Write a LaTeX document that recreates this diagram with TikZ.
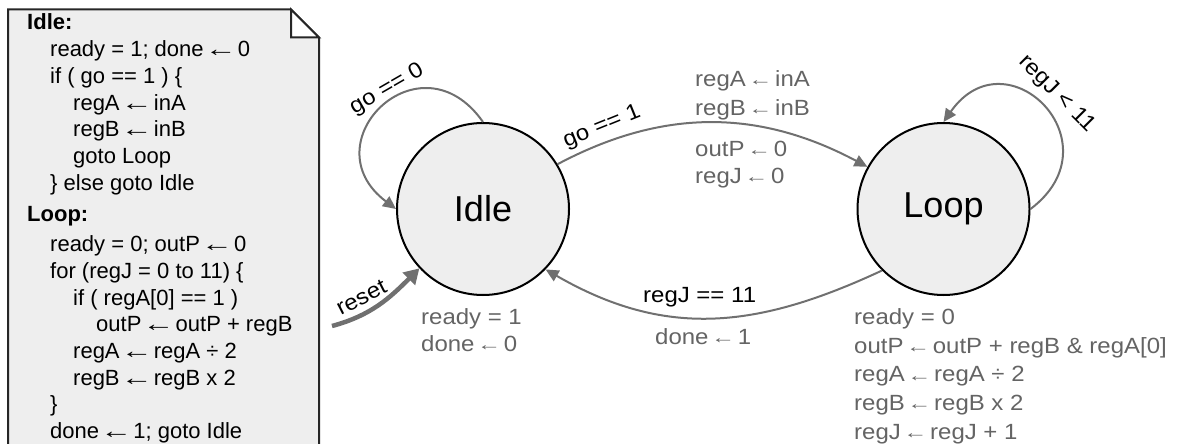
\documentclass[tikz,border=0pt]{standalone}
\usepackage{fontspec}
\setmainfont{Liberation Sans}
\newfontfamily\lblfont[FakeStretch=1.09]{Liberation Sans}
\usetikzlibrary{arrows.meta}

\definecolor{edgegray}{RGB}{112,112,112}
\definecolor{actgray}{RGB}{100,100,100}
\definecolor{statefill}{RGB}{238,238,238}
\definecolor{notefill}{RGB}{238,238,238}

% long assignment arrow for the pseudo-code
\newcommand{\cla}{\makebox[1em]{\scalebox{1.45}[1]{←}}}
% short assignment arrow used in the action labels
\newcommand{\sla}{\makebox[16pt]{\raisebox{0.8pt}{\fontsize{17}{17}\selectfont\scalebox{1.3}[1]{←}}}}

\begin{document}
\begin{tikzpicture}[x=1pt,y=1pt,
  statenode/.style={circle, draw=black, line width=2pt, fill=statefill,
    minimum size=172pt, inner sep=0pt, font=\fontsize{36}{36}\selectfont},
  trans/.style={draw=edgegray, line width=2pt,
    -{Triangle[length=13pt,width=12pt]}},
  resetarrow/.style={draw=edgegray, line width=4.5pt,
    -{Triangle[length=15pt,width=17pt]}},
  guard/.style={font=\lblfont\fontsize{22}{22}\selectfont, text=black, inner sep=0pt},
  action/.style={font=\lblfont\fontsize{22}{22}\selectfont, text=actgray,
    inner sep=0pt, anchor=base west},
  code/.style={font=\fontsize{22}{22}\selectfont, text=black,
    inner sep=0pt, anchor=base west},
  notebox/.style={draw=black!85, line width=2pt, fill=notefill, line join=miter}
]
\useasboundingbox (0,0) rectangle (1177,-444);

% ---- pseudo-code note with folded corner ----
\draw[notebox] (8,-446) -- (8,-9.5) -- (291,-9.5) -- (319,-37.5) -- (319,-446);
\draw[draw=black!85, line width=2pt, fill=white, line join=miter]
  (291,-9.5) -- (291,-37.5) -- (319,-37.5) -- cycle;

\foreach \px/\py/\txt [count=\i] in {
   27/30/{\bfseries Idle:},
   50/56.7/{ready = 1; done \cla{} 0},
   50/83.3/{if ( go == 1 ) \{},
   73/110/{regA \cla{} inA},
   73/136.7/{regB \cla{} inB},
   73/163.3/{goto Loop},
   50/190/{\} else goto Idle},
   27/221.7/{\bfseries Loop:},
   50/251.7/{ready = 0; outP \cla{} 0},
   50/278.3/{for (regJ = 0 to 11) \{},
   73/305/{if ( regA[0] == 1 )},
   96/331.7/{outP \cla{} outP + regB},
   73/358.3/{regA \cla{} regA ÷ 2},
   73/385/{regB \cla{} regB x 2},
   50/411.7/{\}},
   50/438.3/{done \cla{} 1; goto Idle}}
  \node[code] (code\i) at (\px,-\py) {\txt};

% ---- states ----
\node[statenode] (Idle) at (483,-209) {Idle};
\node[statenode] (Loop) at (943.5,-209) {Loop};

% ---- transitions ----
\draw[trans] (Idle.90) to[out=125,in=143,distance=110pt] (Idle.180);
\draw[trans] (Loop.0) to[out=37,in=55,distance=110pt] (Loop.90);
\draw[trans] (Idle.31) to[out=28,in=152] (Loop.151);
\draw[trans] (Loop.225) to[out=205,in=330,looseness=1.05] (Idle.316);
\coordinate (rst) at (332,-326);
\draw[resetarrow] (rst) to[out=15,in=225] (Idle.223);

% ---- guards ----
\node[guard, rotate=30] (gZero) at (387,-89) {go == 0};
\node[guard, rotate=22] (gOne) at (602,-127) {go == 1};
\node[guard, rotate=-45] (gLess) at (1057,-94) {regJ < 11};
\node[guard, rotate=27] (gReset) at (361.5,-297.5) {reset};
\node[guard, anchor=base west] (gEq) at (643,-302.3) {regJ == 11};

% ---- actions ----
\node[action] (aI1) at (421,-324) {ready = 1};
\node[action] (aI2) at (421,-351.7) {done \sla{} 0};

\node[action] (aG1) at (695,-86.7) {regA \sla{} inA};
\node[action] (aG2) at (695,-115) {regB \sla{} inB};
\node[action] (aG3) at (695,-156.7) {outP \sla{} 0};
\node[action] (aG4) at (695,-183.3) {regJ \sla{} 0};

\node[action] (aD1) at (655,-344) {done \sla{} 1};

\node[action] (aL1) at (854,-324.5) {ready = 0};
\node[action] (aL2) at (854,-353.2) {outP \sla{} outP + regB \& regA[0]};
\node[action] (aL3) at (854,-381.9) {regA \sla{} regA ÷ 2};
\node[action] (aL4) at (854,-410.6) {regB \sla{} regB x 2};
\node[action] (aL5) at (854,-439.3) {regJ \sla{} regJ + 1};
\end{tikzpicture}
\end{document}
